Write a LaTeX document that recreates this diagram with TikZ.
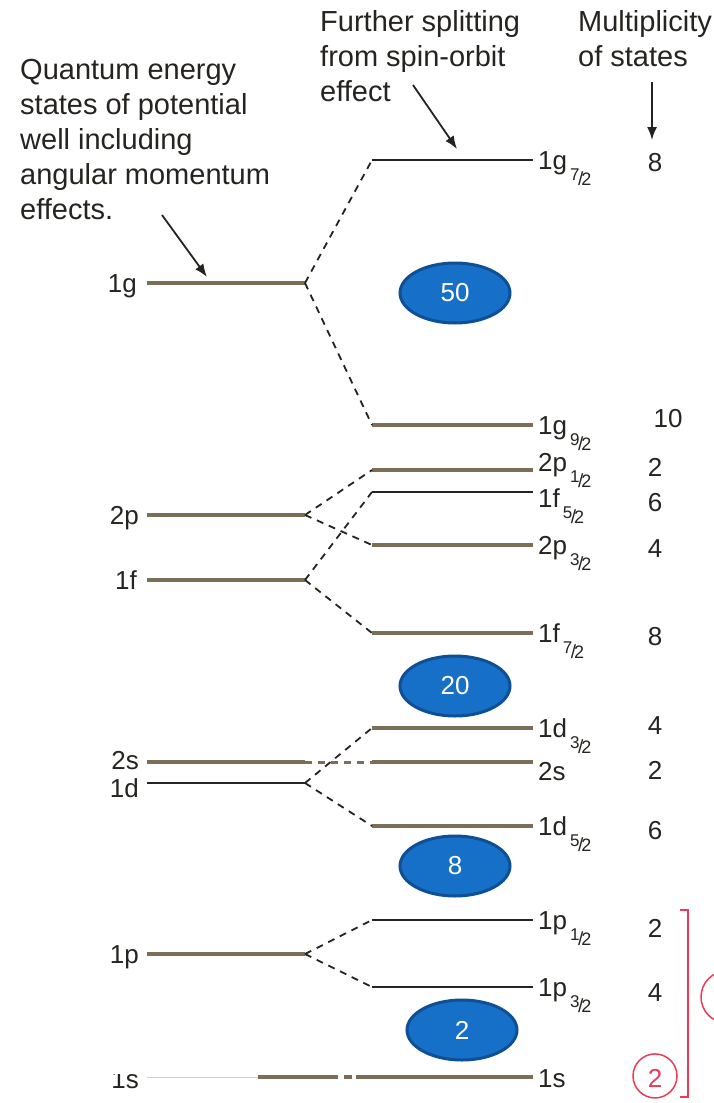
\documentclass[tikz,border=0pt]{standalone}
\usepackage{fontspec}
\setmainfont{Liberation Sans}
\usetikzlibrary{arrows.meta,shapes.geometric}

\definecolor{lev}{HTML}{7A6E58}
\definecolor{ink}{HTML}{262420}
\definecolor{magic}{HTML}{1670C8}
\definecolor{magicedge}{HTML}{0E4F96}
\definecolor{redmark}{HTML}{EE3B55}

% j = a/b as a small slanted fraction hung below the baseline
\newcommand{\jfrac}[2]{\kern3pt\smash{\raisebox{-16pt}{%
  {\fontsize{17}{17}\selectfont\raisebox{5pt}{#1}}\kern-1.5pt%
  {\fontsize{19}{19}\selectfont/}\kern-2pt%
  {\fontsize{18}{18}\selectfont#2}}}}

\tikzset{
  big/.style={line width=3.4pt, draw=lev},
  slim/.style={line width=1.8pt, draw=ink},
  split/.style={line width=1.8pt, draw=ink, dash pattern=on 7pt off 6pt},
  lbl/.style={font=\fontsize{26}{30}\selectfont, text=ink, inner sep=0pt},
  note/.style={font=\fontsize{29}{35}\selectfont, text=ink, inner sep=0pt, align=left},
  pointer/.style={line width=1.8pt, draw=ink, -{Latex[length=13pt,width=10pt]}},
  shell/.style={ellipse, minimum width=110pt, minimum height=60pt, inner sep=0pt,
                fill=magic, draw=magicedge, line width=3pt, text=white,
                font=\fontsize{26}{30}\selectfont},
}

\begin{document}
\begin{tikzpicture}[x=1pt, y=-1pt]
\useasboundingbox (0,0) rectangle (713,1103);
\fill[white] (0,0) rectangle (713,1103);

% ---- annotations -------------------------------------------------------
\node[note, anchor=north west] (qnote) at (20,59)
  {Quantum energy\\states of potential\\well including\\angular momentum\\effects.};
\node[note, anchor=north west] (snote) at (320,10)
  {Further splitting\\from spin-orbit\\effect};
\node[note, anchor=north west] (mnote) at (578,10)
  {Multiplicity\\of states};

\coordinate (qa) at (162,215);  \coordinate (qb) at (207,277);
\coordinate (sa) at (413,85);   \coordinate (sb) at (457,149);
\coordinate (ma) at (652,82);   \coordinate (mb) at (652,140);
\draw[pointer] (qa) -- (qb);
\draw[pointer] (sa) -- (sb);
\draw[pointer] (ma) -- (mb);

% ---- unsplit levels (left) ---------------------------------------------
\foreach \nm/\y in {1g/283, 2p/515, 1f/580, 2s/762, 1d/783, 1p/954}{
  \coordinate (L\nm a) at (147,\y);
  \coordinate (L\nm b) at (305,\y);
}
\draw[big] (L1ga) -- (L1gb);
\draw[big] (L2pa) -- (L2pb);
\draw[big] (L1fa) -- (L1fb);
\draw[big] (L2sa) -- (L2sb);
\draw[slim] (L1da) -- (L1db);
\draw[big] (L1pa) -- (L1pb);

\node[lbl, anchor=base east] (t1g) at (137,292) {1g};
\node[lbl, anchor=base east] (t2p) at (139,524) {2p};
\node[lbl, anchor=base east] (t1f) at (137,589) {1f};
\node[lbl, anchor=base east] (t2s) at (139,769) {2s};
\node[lbl, anchor=base east] (t1d) at (139,797) {1d};
\node[lbl, anchor=base east] (t1p) at (139,963) {1p};

% ---- split levels (right) ----------------------------------------------
\foreach \nm/\y in {g7/160, g9/425, pa/470, fa/492, pb/545, fb/633,
                    da/728, s2/762, db/826, qa/920, qb/987, s1/1077}{
  \coordinate (R\nm a) at (372,\y);
  \coordinate (R\nm b) at (533,\y);
}
\draw[slim] (Rg7a) -- (Rg7b);
\draw[big]  (Rg9a) -- (Rg9b);
\draw[big]  (Rpaa) -- (Rpab);
\draw[slim] (Rfaa) -- (Rfab);
\draw[big]  (Rpba) -- (Rpbb);
\draw[big]  (Rfba) -- (Rfbb);
\draw[big]  (Rdaa) -- (Rdab);
\draw[big]  (Rs2a) -- (Rs2b);
\draw[big]  (Rdba) -- (Rdbb);
\draw[slim] (Rqaa) -- (Rqab);
\draw[slim] (Rqba) -- (Rqbb);

% spin-orbit splitting
\draw[split] (L1gb) -- (Rg7a);  \draw[split] (L1gb) -- (Rg9a);
\draw[split] (L2pb) -- (Rpaa);  \draw[split] (L2pb) -- (Rpba);
\draw[split] (L1fb) -- (Rfaa);  \draw[split] (L1fb) -- (Rfba);
\draw[split] (L1db) -- (Rdaa);  \draw[split] (L1db) -- (Rdba);
\draw[split] (L1pb) -- (Rqaa);  \draw[split] (L1pb) -- (Rqba);
\coordinate (s2gap) at (279,762);
\draw[split, draw=lev, line width=3pt] (s2gap) -- (Rs2a);

% 1s: unsplit level
\coordinate (S1a) at (147,1077);
\coordinate (S1b) at (258,1077);
\coordinate (S1c) at (330,1077);
\coordinate (S1d) at (356,1077);
\draw[line width=0.8pt, draw=black!18] (S1a) -- (S1b);
\draw[big] (S1b) -- (S1c);
\draw[big, dash pattern=on 8pt off 6pt] (S1c) -- (S1d);
\draw[big] (S1d) -- (Rs1b);
\node[lbl, anchor=base east] (t1s) at (139,1088) {1s};
\fill[white] (96,1050) rectangle (146,1074);

\node[lbl, anchor=base west] (u1) at (538,169) {1g\jfrac{7}{2}};
\node[lbl, anchor=base west] (u2) at (538,434) {1g\jfrac{9}{2}};
\node[lbl, anchor=base west] (u3) at (538,471) {2p\jfrac{1}{2}};
\node[lbl, anchor=base west] (u4) at (538,507) {1f\jfrac{5}{2}};
\node[lbl, anchor=base west] (u5) at (538,554) {2p\jfrac{3}{2}};
\node[lbl, anchor=base west] (u6) at (538,642) {1f\jfrac{7}{2}};
\node[lbl, anchor=base west] (u7) at (538,737) {1d\jfrac{3}{2}};
\node[lbl, anchor=base west] (u8) at (538,780) {2s};
\node[lbl, anchor=base west] (u9) at (538,835) {1d\jfrac{5}{2}};
\node[lbl, anchor=base west] (u10) at (538,929) {1p\jfrac{1}{2}};
\node[lbl, anchor=base west] (u11) at (538,996) {1p\jfrac{3}{2}};
\node[lbl, anchor=base west] (u12) at (538,1087) {1s};

% ---- multiplicities ----------------------------------------------------
\node[lbl, anchor=base] (m1) at (655,171) {8};
\node[lbl, anchor=base] (m2) at (668,427) {10};
\node[lbl, anchor=base] (m3) at (655,476) {2};
\node[lbl, anchor=base] (m4) at (655,511) {6};
\node[lbl, anchor=base] (m5) at (655,557) {4};
\node[lbl, anchor=base] (m6) at (655,645) {8};
\node[lbl, anchor=base] (m7) at (655,734) {4};
\node[lbl, anchor=base] (m8) at (655,779) {2};
\node[lbl, anchor=base] (m9) at (655,839) {6};
\node[lbl, anchor=base] (m10) at (655,937) {2};
\node[lbl, anchor=base] (m11) at (655,1001) {4};
\node[lbl, anchor=base, text=redmark] (m12) at (655,1087) {2};
\draw[redmark, line width=1.5pt] (m12.center) ++(0,-2) circle[radius=22pt];

% bracket over the two lowest shells
\coordinate (ba) at (680,910);  \coordinate (bb) at (688,910);
\coordinate (bc) at (688,1097); \coordinate (bd) at (680,1097);
\draw[redmark, line width=1.5pt] (ba) -- (bb) -- (bc) -- (bd);
\draw[redmark, line width=1.5pt] (727,997) circle[radius=26pt];

% ---- magic numbers -----------------------------------------------------
\node[shell] (n50) at (455,293) {50};
\node[shell] (n20) at (455,686) {20};
\node[shell] (n8)  at (455,866) {8};
\node[shell] (n2)  at (462,1030) {2};
\end{tikzpicture}
\end{document}
